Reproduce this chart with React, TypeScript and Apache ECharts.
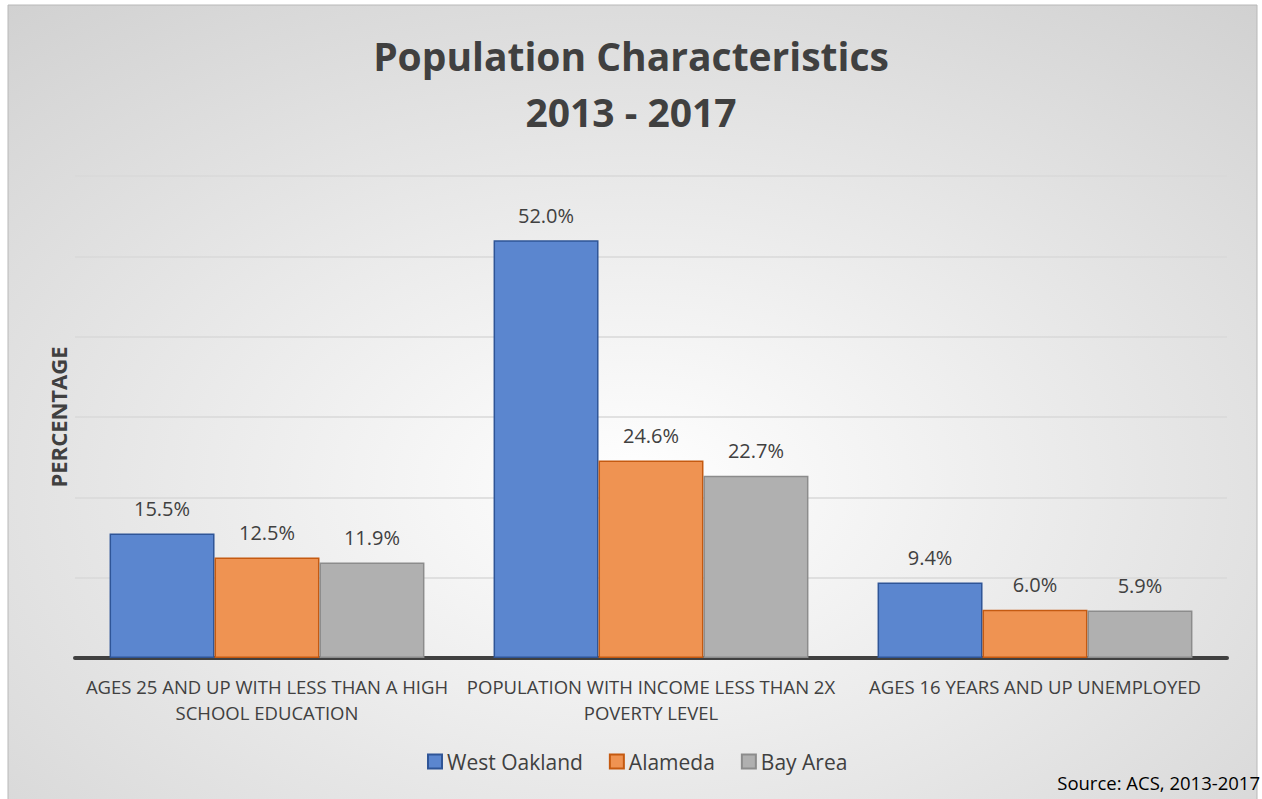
import React, { useEffect, useRef } from "react";
import * as echarts from "echarts";

const categories = [
  "AGES 25 AND UP WITH LESS THAN A HIGH\nSCHOOL EDUCATION",
  "POPULATION WITH INCOME LESS THAN 2X\nPOVERTY LEVEL",
  "AGES 16 YEARS AND UP UNEMPLOYED",
];
const westOakland = [15.5, 52.0, 9.4];
const alameda = [12.5, 24.6, 6.0];
const bayArea = [11.9, 22.7, 5.9];

const FONT = "'Open Sans', 'Noto Sans', sans-serif";
const TXT = "#404040";

export default function App() {
  const ref = useRef<HTMLDivElement>(null);
  useEffect(() => {
    if (!ref.current) return;
    const chart = echarts.init(ref.current, undefined, { renderer: "svg" });
    const mkSeries = (name: string, data: number[], fill: string, border: string) => ({
      name,
      type: "bar",
      data,
      barGap: "0%",
      barCategoryGap: "18%",
      itemStyle: { color: fill, borderColor: border, borderWidth: 1.5 },
      label: {
        show: true,
        position: "top",
        distance: 15,
        formatter: (p: any) => p.value.toFixed(1) + "%",
        color: TXT,
        fontSize: 20,
        fontFamily: FONT,
      },
    });
    chart.setOption({
      animation: false,
      textStyle: { fontFamily: FONT },
      graphic: [
        {
          type: "rect",
          z: -10,
          shape: { x: 8, y: 5, width: 1249, height: 800 },
          style: {
            fill: {
              type: "radial",
              x: 0.5,
              y: 0.6,
              r: 1.0,
              colorStops: [
                { offset: 0, color: "#ffffff" },
                { offset: 1, color: "#c4c4c4" },
              ],
            },
            stroke: "#b8b8b8",
            lineWidth: 1,
          },
        },
        {
          type: "text",
          left: "center",
          top: 27,
          style: {
            text: "Population Characteristics\n2013 - 2017",
            fill: TXT,
            font: "bold 39px " + FONT,
            textAlign: "center",
            lineHeight: 56,
          },
        },
        {
          type: "text",
          right: 2,
          top: 773,
          style: {
            text: "Source: ACS, 2013-2017",
            fill: "#000000",
            font: "18.5px " + FONT,
          },
        },
      ],
      title: { show: false },
      legend: {
        bottom: 22,
        left: 422,
        itemWidth: 14,
        itemHeight: 14,
        itemGap: 26,
        icon: "rect",
        textStyle: { color: TXT, fontSize: 21, fontFamily: FONT },
        data: ["West Oakland", "Alameda", "Bay Area"],
      },
      grid: { left: 75, right: 35, top: 176, bottom: 141, containLabel: false },
      xAxis: {
        type: "category",
        data: categories,
        axisLine: { show: true, lineStyle: { color: "#404040", width: 4 } },
        axisTick: { show: false },
        axisLabel: {
          color: TXT,
          fontSize: 18.5,
          fontFamily: FONT,
          lineHeight: 26,
          margin: 15,
          interval: 0,
          align: "center",
        },
      },
      yAxis: {
        type: "value",
        min: 0,
        max: 60,
        interval: 10,
        name: "PERCENTAGE",
        nameLocation: "middle",
        nameGap: 6,
        nameRotate: 90,
        nameTextStyle: { color: TXT, fontSize: 22, fontWeight: "bold", fontFamily: FONT },
        axisLabel: { show: false },
        axisLine: { show: false },
        axisTick: { show: false },
        splitLine: { lineStyle: { color: "#d9d9d9", width: 1.5 } },
      },
      series: [
        mkSeries("West Oakland", westOakland, "#5b86cf", "#2f5597"),
        mkSeries("Alameda", alameda, "#ef9352", "#c55a11"),
        mkSeries("Bay Area", bayArea, "#b0b0b0", "#8c8c8c"),
      ],
    });
    return () => chart.dispose();
  }, []);
  return (
    <div
      ref={ref}
      style={{ position: "fixed", left: 0, top: 0, width: 1262, height: 799, background: "#ffffff" }}
    />
  );
}
